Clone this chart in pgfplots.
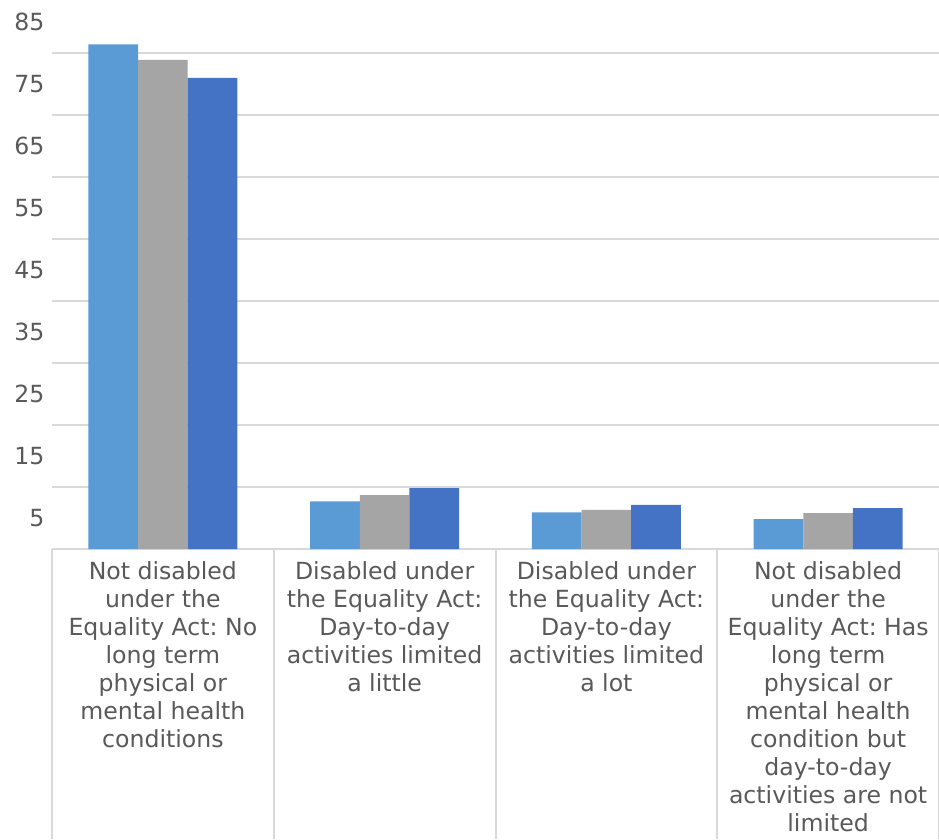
\documentclass[border=0pt]{standalone}
\usepackage{pgfplots}
\pgfplotsset{compat=1.18}
\usepackage{fontspec}
\setmainfont{DejaVu Sans}
\frenchspacing
\definecolor{txt}{HTML}{595959}
\definecolor{gridc}{HTML}{D9D9D9}
\definecolor{sA}{HTML}{5B9BD5}
\definecolor{sB}{HTML}{A5A5A5}
\definecolor{sC}{HTML}{4472C4}
\newcommand\lab{\fontsize{23.6}{28}\selectfont\frenchspacing}

\begin{document}
\begin{tikzpicture}
\begin{axis}[
    scale only axis,
    width=887pt, height=527pt,
    ybar=0pt, bar width=49.7pt,
    ymin=0, ymax=85,
    xmin=-0.5, xmax=3.5,
    axis line style={draw=none},
    tick pos=left,
    ytick={5,15,...,85},
    minor ytick={0,10,...,80},
    yminorgrids,
    minor grid style={gridc, line width=2pt},
    major tick length=0pt, minor tick length=0pt,
    /pgf/number format/assume math mode=true,
    tick label style={font=\lab, text=txt},
    y tick label style={xshift=-4pt},
    xtick={0,1,2,3},
    xticklabels={
        {Not disabled\\under the\\Equality Act: No\\long term\\physical or\\mental health\\conditions},
        {Disabled under\\the Equality Act:\\Day-to-day\\activities limited\\a little},
        {Disabled under\\the Equality Act:\\Day-to-day\\activities limited\\a lot},
        {Not disabled\\under the\\Equality Act: Has\\long term\\physical or\\mental health\\condition but\\day-to-day\\activities are not\\limited}},
    x tick label style={align=center, anchor=north, yshift=-9pt},
    extra x ticks={-0.5,0.5,1.5,2.5,3.5},
    extra x tick labels={},
    extra x tick style={tick pos=left, tick align=outside, major tick length=290pt,
        major tick style={gridc, line width=2pt}},
    clip=false,
]
\addplot[fill=sA, draw=none] coordinates {(0,81.4) (1,7.7) (2,5.9) (3,4.8)};
\addplot[fill=sB, draw=none] coordinates {(0,78.9) (1,8.7) (2,6.3) (3,5.8)};
\addplot[fill=sC, draw=none] coordinates {(0,76.0) (1,9.8) (2,7.1) (3,6.6)};
\coordinate (o) at (rel axis cs:0,0);
\end{axis}
\pgfresetboundingbox
\path (o) ++(-52pt,-290pt) rectangle ++(939pt,839pt);
\end{tikzpicture}
\end{document}
